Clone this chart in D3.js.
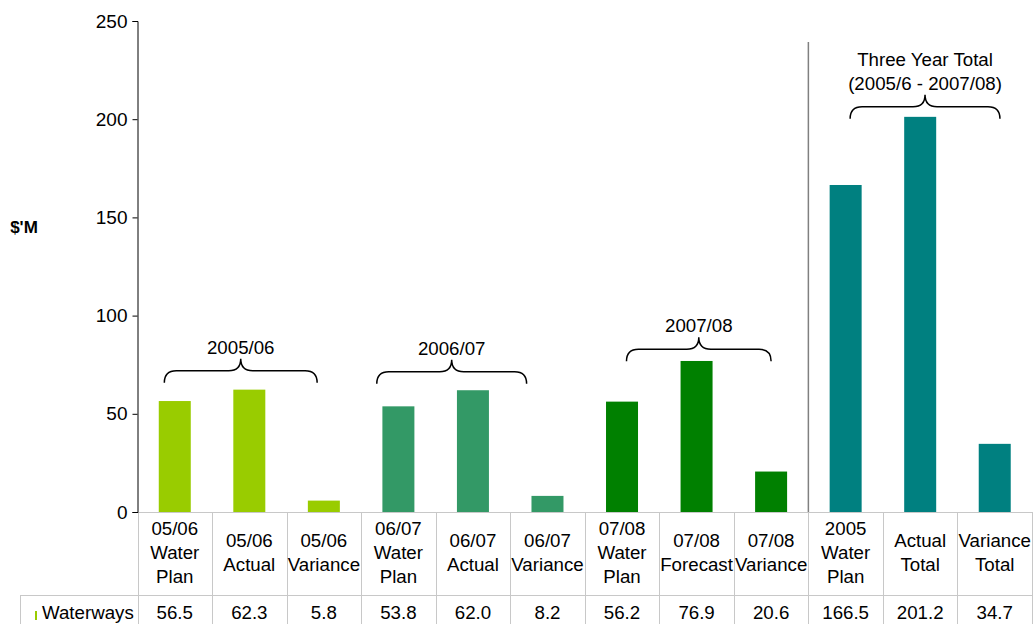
<!DOCTYPE html>
<html>
<head>
<meta charset="utf-8">
<script src="https://cdn.jsdelivr.net/npm/d3@7"></script>
<style>
  html, body { margin: 0; padding: 0; background: #fff; }
  svg text { font-family: Arial, "Liberation Sans", sans-serif; fill: #000; }
</style>
</head>
<body>
<svg id="chart" width="1035" height="624"></svg>
<script>
// ── data ────────────────────────────────────────────────
const categories = [
  ["05/06", "Water", "Plan"], ["05/06", "Actual"], ["05/06", "Variance"],
  ["06/07", "Water", "Plan"], ["06/07", "Actual"], ["06/07", "Variance"],
  ["07/08", "Water", "Plan"], ["07/08", "Forecast"], ["07/08", "Variance"],
  ["2005", "Water", "Plan"], ["Actual", "Total"], ["Variance", "Total"]
];
const waterways = [56.5, 62.3, 5.8, 53.8, 62.0, 8.2, 56.2, 76.9, 20.6, 166.5, 201.2, 34.7];
const seriesName = "Waterways";
const groupOf = [0, 0, 0, 1, 1, 1, 2, 2, 2, 3, 3, 3];
const groupColors = ["#99cc00", "#339966", "#008000", "#008080"];
const yTicks = [0, 50, 100, 150, 200, 250];

// braces: span in band units, tip height in $'M
const braceLabels = [["2005/06"], ["2006/07"], ["2007/08"], ["Three Year Total", "(2005/6 - 2007/08)"]];
const braceFrom = [0.36, 3.21, 6.56, 9.56];
const braceTo = [2.41, 5.22, 8.50, 11.57];
const braceTip = [78, 77.5, 89, 212.5];

// ── layout ──────────────────────────────────────────────
const svg = d3.select("#chart");
const plotL = 137.5, plotR = 1032, plotT = 21, base = 512;
const tableMid = 595, tableBottom = 640;
const fs = 18.7;
const idx = d3.range(categories.length);

const x = d3.scaleBand().domain(idx).range([plotL, plotR]).padding(0);
const y = d3.scaleLinear().domain([0, 250]).range([base, plotT]);
const step = x.step();
const barW = 32;

// bars
svg.append("g").selectAll("rect").data(idx).join("rect")
  .attr("x", i => x(i) + (step - barW) / 2)
  .attr("y", i => y(waterways[i]))
  .attr("width", barW)
  .attr("height", i => base - y(waterways[i]))
  .attr("fill", i => groupColors[groupOf[i]]);

// table grid
const grid = svg.append("g").attr("stroke", "#c8c8c8").attr("stroke-width", 1).attr("fill", "none");
grid.append("line").attr("x1", plotL).attr("x2", plotR).attr("y1", base + 0.5).attr("y2", base + 0.5);
grid.append("line").attr("x1", 20).attr("x2", plotR).attr("y1", tableMid + 0.5).attr("y2", tableMid + 0.5);
grid.append("line").attr("x1", 20.5).attr("x2", 20.5).attr("y1", tableMid).attr("y2", tableBottom);
grid.selectAll("line.col").data(d3.range(categories.length + 1)).join("line")
  .attr("class", "col")
  .attr("x1", i => Math.round(plotL + i * step) + 0.5)
  .attr("x2", i => Math.round(plotL + i * step) + 0.5)
  .attr("y1", base).attr("y2", tableBottom);

// y axis
const yAx = svg.append("g").attr("transform", `translate(${plotL},0)`)
  .call(d3.axisLeft(y).tickValues(yTicks).tickSize(5).tickPadding(5));
yAx.select(".domain").attr("stroke", "#000");
yAx.selectAll("line").attr("stroke", "#000");
yAx.selectAll("text").attr("font-size", 19).attr("fill", "#000")
  .attr("font-family", "Arial, 'Liberation Sans', sans-serif");

svg.append("text").attr("x", 24).attr("y", 233).attr("text-anchor", "middle")
  .attr("font-size", 17).attr("font-weight", "bold").text("$'M");

// separator before totals
svg.append("line").attr("x1", x(9)).attr("x2", x(9)).attr("y1", 42).attr("y2", base)
  .attr("stroke", "#808080").attr("stroke-width", 1.5);

// category labels
const lineH = 24;
svg.append("g").selectAll("text").data(idx).join("text")
  .attr("text-anchor", "middle")
  .attr("font-size", fs)
  .each(function (i) {
    const lines = categories[i];
    const y0 = 559 - (lines.length - 1) * lineH / 2;
    d3.select(this).selectAll("tspan").data(lines).join("tspan")
      .attr("x", x(i) + step / 2)
      .attr("y", (d, k) => y0 + k * lineH)
      .text(d => d);
  });

// values row
svg.append("g").selectAll("text").data(idx).join("text")
  .attr("text-anchor", "middle").attr("font-size", fs)
  .attr("x", i => x(i) + step / 2).attr("y", 619)
  .text(i => waterways[i].toFixed(1));

svg.append("line").attr("x1", 36).attr("x2", 36).attr("y1", 611).attr("y2", 620)
  .attr("stroke", groupColors[0]).attr("stroke-width", 2);
svg.append("text").attr("x", 42).attr("y", 619).attr("font-size", fs).text(seriesName);

// braces
const bx = b => plotL + b * step;
braceLabels.forEach((lab, k) => {
  const x0 = bx(braceFrom[k]), x1 = bx(braceTo[k]);
  const xm = (x0 + x1) / 2;
  const yt = y(braceTip[k]);
  const ya = yt + 12, ye = yt + 24, r = 12;
  const p = d3.path();
  p.moveTo(x0, ye);
  p.quadraticCurveTo(x0, ya, x0 + r, ya);
  p.lineTo(xm - r, ya);
  p.quadraticCurveTo(xm, ya, xm, yt);
  p.quadraticCurveTo(xm, ya, xm + r, ya);
  p.lineTo(x1 - r, ya);
  p.quadraticCurveTo(x1, ya, x1, ye);
  svg.append("path").attr("d", p.toString()).attr("fill", "none")
    .attr("stroke", "#000").attr("stroke-width", 1.5);
  lab.forEach((t, j) => {
    svg.append("text").attr("text-anchor", "middle").attr("font-size", fs)
      .attr("x", xm).attr("y", yt - 5 - (lab.length - 1 - j) * 24).text(t);
  });
});
</script>
</body>
</html>
